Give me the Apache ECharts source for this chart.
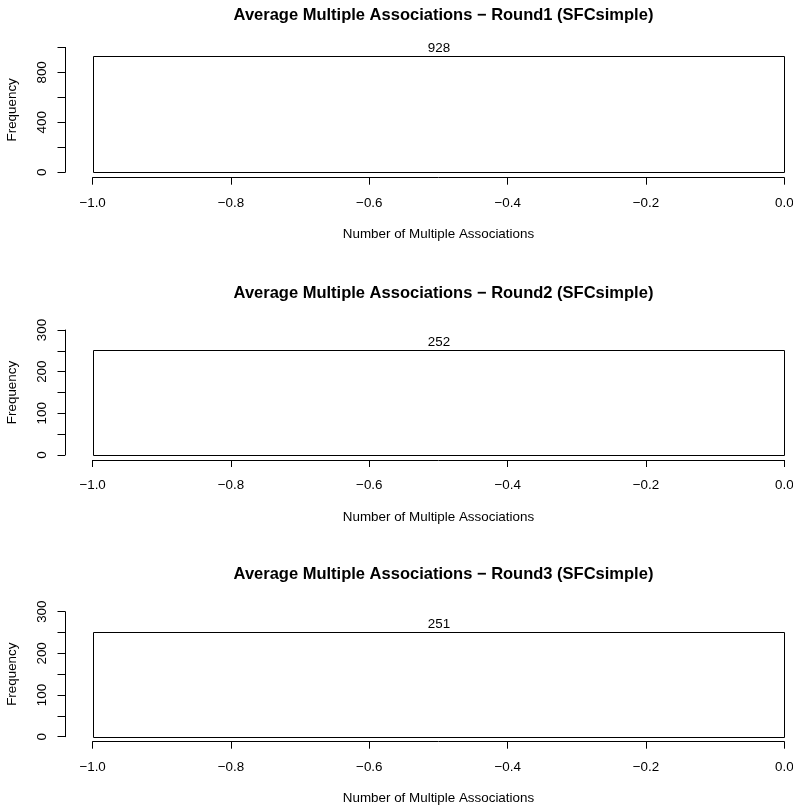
<!DOCTYPE html>
<html>
<head>
<meta charset="utf-8">
<script src="https://cdn.jsdelivr.net/npm/echarts@6/dist/echarts.min.js"></script>
<style>
html,body{margin:0;padding:0;background:#fff;}
#chart{width:793px;height:808px;}
</style>
</head>
<body>
<div id="chart"></div>
<script>
// ---- data ----
const titles = [
  "Average Multiple Associations \u2212 Round1 (SFCsimple)",
  "Average Multiple Associations \u2212 Round2 (SFCsimple)",
  "Average Multiple Associations \u2212 Round3 (SFCsimple)"
];
const breaks = [-1.0, 0.0];
const counts1 = [928];
const counts2 = [252];
const counts3 = [251];
const xTickLabels = ["-1.0", "-0.8", "-0.6", "-0.4", "-0.2", "0.0"];
const yTickLabels1 = [0, 400, 800];
const yTickLabels2 = [0, 100, 200, 300];
const yTickLabels3 = [0, 100, 200, 300];
const xLabel = "Number of Multiple Associations";
const yLabel = "Frequency";

// ---- layout ----
const FONT = "Liberation Sans, Arial, Helvetica, sans-serif";
const allCounts = [counts1, counts2, counts3];
const allYLabels = [yTickLabels1, yTickLabels2, yTickLabels3];
const yMax = [1000, 300, 300];
const yStep = [200, 50, 50];
const gridTops = [47.4, 330, 611.7];
const gridH = [124.9, 125, 125];
const xOff = [5.4, 5, 5];
const titleTops = [0, 278.5, 559.5];

const grids = [], xAxes = [], yAxes = [], series = [], titleOpts = [];
for (let i = 0; i < 3; i++) {
  grids.push({left: 92.6, top: gridTops[i], width: 691.7, height: gridH[i],
              containLabel: false, outerBoundsMode: 'none'});
  xAxes.push({
    type: 'value', gridIndex: i, min: -1, max: 0, interval: 0.2,
    offset: xOff[i],
    splitLine: {show: false},
    axisLine: {show: true, onZero: false, lineStyle: {color: '#000', width: 1}},
    axisTick: {show: true, length: 7, lineStyle: {color: '#000', width: 1}},
    axisLabel: {
      show: true, margin: 18.5, color: '#000', fontFamily: FONT, fontSize: 13.4, lineHeight: 14,
      showMinLabel: true, showMaxLabel: true, hideOverlap: false,
      formatter: v => {
        const s = v.toFixed(1);
        const idx = xTickLabels.indexOf(s === "-0.0" ? "0.0" : s);
        return idx >= 0 ? xTickLabels[idx].replace('-', '\u2212') : '';
      }
    },
    name: xLabel, nameLocation: 'middle', nameGap: 50,
    nameTextStyle: {color: '#000', fontFamily: FONT, fontSize: 13.4, lineHeight: 14}
  });
  const labs = allYLabels[i];
  yAxes.push({
    type: 'value', gridIndex: i, min: 0, max: yMax[i], interval: yStep[i],
    offset: 27.6,
    splitLine: {show: false},
    axisLine: {show: true, onZero: false, lineStyle: {color: '#000', width: 1}},
    axisTick: {show: true, length: 7.5, lineStyle: {color: '#000', width: 1}},
    axisLabel: {
      show: true, rotate: 90, margin: 16, color: '#000', fontFamily: FONT, fontSize: 13.4, lineHeight: 14,
      showMinLabel: true, showMaxLabel: true, hideOverlap: false,
      formatter: v => labs.indexOf(Math.round(v)) >= 0 ? String(Math.round(v)) : ''
    },
    name: yLabel, nameLocation: 'middle', nameGap: 46, nameRotate: 90,
    nameTextStyle: {color: '#000', fontFamily: FONT, fontSize: 13.4, lineHeight: 14}
  });
  const data = allCounts[i].map((c, k) => [breaks[k], breaks[k + 1], c]);
  series.push({
    type: 'custom', xAxisIndex: i, yAxisIndex: i,
    data: data,
    encode: {x: [0, 1], y: 2},
    clip: false,
    renderItem: function (params, api) {
      const p0 = api.coord([api.value(0), 0]);
      const p1 = api.coord([api.value(1), api.value(2)]);
      const x0 = Math.round(p0[0]) + 0.5, x1 = Math.round(p1[0]) + 0.5;
      const yb = Math.round(p0[1]) + 0.5, yt = Math.round(p1[1]) + 0.5;
      return {
        type: 'group',
        children: [
          {type: 'rect', shape: {x: x0, y: yt, width: x1 - x0, height: yb - yt},
           style: {fill: 'none', stroke: '#000', lineWidth: 1}},
          {type: 'text', x: (x0 + x1) / 2, y: yt - 2,
           style: {text: String(api.value(2)), fill: '#000', font: '13.4px ' + FONT,
                   textAlign: 'center', textVerticalAlign: 'bottom'}}
        ]
      };
    }
  });
  titleOpts.push({
    text: titles[i], left: 438.5, top: titleTops[i], textAlign: 'center',
    textStyle: {color: '#000', fontFamily: FONT, fontSize: 16.5, fontWeight: 'bold', lineHeight: 20}
  });
}

const chart = echarts.init(document.getElementById('chart'), null, {renderer: 'canvas'});
chart.setOption({
  backgroundColor: '#fff',
  animation: false,
  title: titleOpts,
  grid: grids,
  xAxis: xAxes,
  yAxis: yAxes,
  series: series
});
</script>
</body>
</html>
